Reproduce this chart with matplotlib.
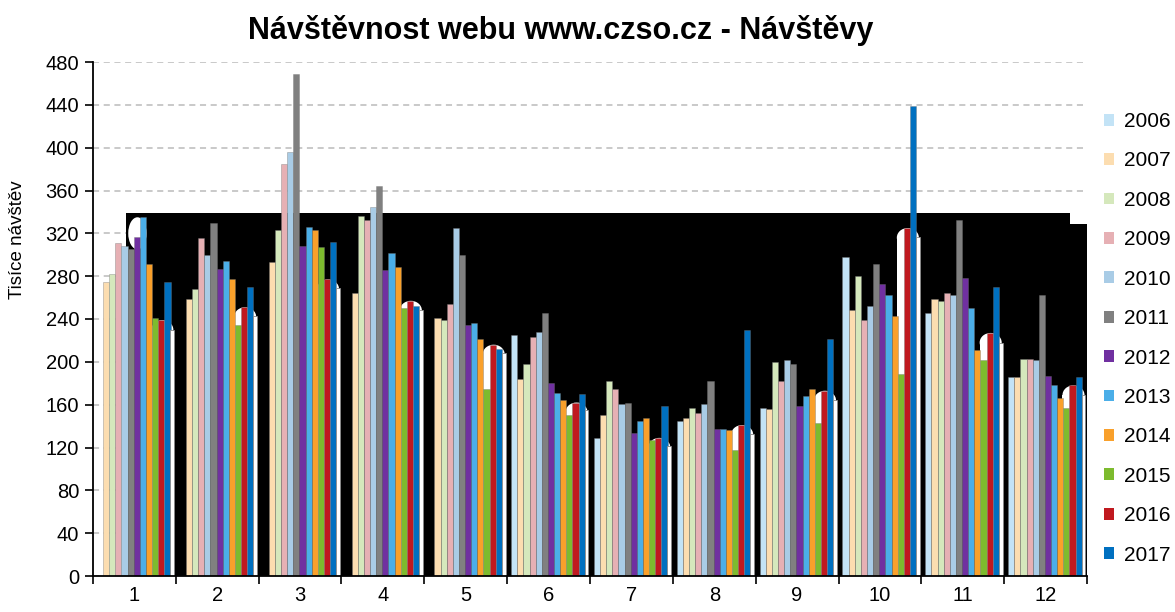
import numpy as np
import matplotlib
matplotlib.use("Agg")
import matplotlib.pyplot as plt
from matplotlib.patches import Rectangle, Ellipse, Patch

plt.rcParams['font.family'] = ['Liberation Sans', 'DejaVu Sans']

months = ["1", "2", "3", "4", "5", "6", "7", "8", "9", "10", "11", "12"]
years = ["2006", "2007", "2008", "2009", "2010", "2011",
         "2012", "2013", "2014", "2015", "2016", "2017"]

nan = np.nan
v2006 = [nan, nan, nan, nan, nan, 225, 129, 145, 157, 298, 246, 186]
v2007 = [275, 259, 293, 264, 241, 184, 150, 148, 156, 248, 259, 186]
v2008 = [282, 268, 323, 336, 239, 198, 182, 157, 200, 280, 257, 203]
v2009 = [311, 316, 385, 332, 254, 223, 175, 152, 182, 239, 264, 203]
v2010 = [308, 300, 396, 345, 325, 228, 161, 161, 202, 252, 262, 202]
v2011 = [305, 330, 469, 364, 300, 246, 162, 182, 198, 291, 332, 262]
v2012 = [317, 287, 308, 286, 234, 180, 134, 137, 159, 273, 278, 187]
v2013 = [335, 294, 326, 302, 236, 171, 145, 137, 168, 262, 250, 178]
v2014 = [291, 277, 323, 289, 221, 164, 148, 136, 175, 243, 211, 166]
v2015 = [241, 234, 307, 250, 175, 150, 127, 118, 143, 189, 202, 157]
v2016 = [239, 251, 277, 257, 216, 162, 129, 141, 173, 325, 227, 178]
v2017 = [275, 270, 312, 252, 212, 170, 159, 230, 221, 439, 270, 186]
# unlabeled white series drawn after 2017 in the reference
v_white = [230, 243, 269, 248, 208, 155, 121, 133, 164, 317, 218, 169]

series = [v2006, v2007, v2008, v2009, v2010, v2011,
          v2012, v2013, v2014, v2015, v2016, v2017]
colors = ["#C3E3F6", "#FCDDB0", "#D5E8BC", "#E6B0B4", "#A9CCE6", "#808080",
          "#7030A0", "#4BAEE8", "#F9A02B", "#7DBB2E", "#C0191F", "#0070C0"]

fig = plt.figure(figsize=(11.75, 6.12), dpi=100)
ax = fig.add_axes([93/1175, 36/612, 994/1175, 514/612])

x = np.arange(1, 13)
slot = 0.074
start = -0.5 + 0.048

# artifact background from the reference
ax.add_patch(Rectangle((0.898, 0), 12.295 - 0.898, 339, facecolor='black',
                       edgecolor='none', zorder=1))
ax.add_patch(Rectangle((12.295, 0), 12.5 - 12.295, 328.7, facecolor='black',
                       edgecolor='none', zorder=1))

# white rounded blobs behind last bars
for i, h in zip(x, v2016):
    left = i + start + 9 * slot - 0.01
    width = 3.6 * slot
    r = 9
    ax.add_patch(Rectangle((left, 0), width, h - r, facecolor='white',
                           edgecolor='none', zorder=1.5))
    ax.add_patch(Ellipse((left + width / 2, h - r), width, 2 * r,
                         facecolor='white', edgecolor='none', zorder=1.5))
# white hook in month 1
ax.add_patch(Ellipse((1 + start + 6.6 * slot, 320), 3.0 * slot, 30,
                     facecolor='white', edgecolor='none', zorder=1.5))

for j, (vals, c, lab) in enumerate(zip(series, colors, years)):
    ax.bar(x + start + j * slot + slot / 2, vals, width=slot, color=c,
           edgecolor=(0.45, 0.45, 0.45, 0.5), linewidth=0.5, label=lab, zorder=3)

ax.bar(x + start + 12 * slot + 0.022, v_white, width=0.045, color='white',
       edgecolor='#888888', linewidth=0.6, zorder=3)

ax.set_xlim(0.5, 12.5)
ax.set_ylim(0, 480)
ax.set_yticks(np.arange(0, 481, 40))
ax.set_xticks(x)
ax.set_xticklabels(months)
ax.set_xticks(np.arange(0.5, 12.6, 1), minor=True)
ax.tick_params(axis='x', which='major', length=0, labelsize=14.5, pad=7)
ax.tick_params(axis='x', which='minor', length=6, width=1.2, direction='out')
ax.tick_params(axis='y', length=6, width=1.2, direction='out', labelsize=14.5, pad=4)
ax.yaxis.grid(True, linestyle=(0, (4, 3)), color='#BBBBBB', linewidth=1.1, zorder=0)
ax.set_axisbelow(True)
for s in ['top', 'right']:
    ax.spines[s].set_visible(False)
for s in ['left', 'bottom']:
    ax.spines[s].set_linewidth(1.3)
    ax.spines[s].set_zorder(4)

fig.text(561/1175, 1 - 31/612, "Návštěvnost webu www.czso.cz - Návštěvy",
         ha='center', va='center', fontsize=22, fontweight='bold')
fig.text(18/1175, 1 - 240/612, "Tisíce návštěv", rotation=90,
         ha='center', va='center', fontsize=13.5)

handles = [Patch(facecolor=c, edgecolor='none') for c in colors]
fig.legend(handles, years, loc='upper left', bbox_to_anchor=(1104/1175, 1 - 112/612),
           frameon=False, fontsize=15, handlelength=0.5, handleheight=0.5,
           handletextpad=0.45, labelspacing=0.98, borderaxespad=0, borderpad=0)

fig.savefig("out.png", dpi=100)
